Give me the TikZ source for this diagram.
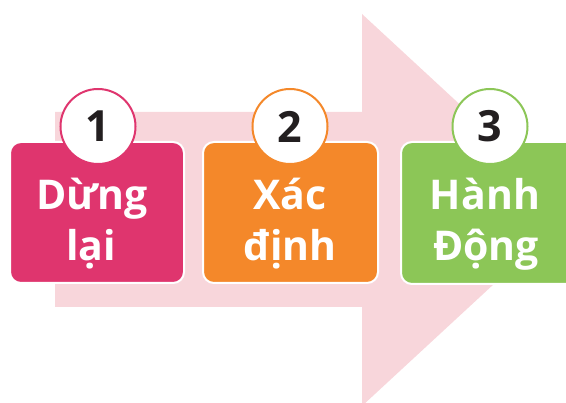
\documentclass[tikz,border=0pt]{standalone}
\usepackage{fontspec}
\setmainfont{Open Sans}
\definecolor{arrowpink}{HTML}{F8D6DB}
\definecolor{boxpink}{HTML}{DF356E}
\definecolor{boxorange}{HTML}{F4882A}
\definecolor{boxgreen}{HTML}{8CC657}
\definecolor{digit}{HTML}{231F20}
\tikzset{
  stepbox/.style={draw=white, line width=2pt, rounded corners=11pt},
  numcircle/.style={circle, fill=white, line width=2pt, minimum size=75pt, inner sep=0pt,
     font=\fontsize{43}{43}\selectfont\bfseries, text=digit},
  steptext/.style={anchor=base, text=white, inner sep=0pt, font=\fontsize{41}{41}\selectfont\bfseries}
}
\begin{document}
\begin{tikzpicture}[x=1pt,y=-1pt]
\useasboundingbox (0,0) rectangle (566,403);
\clip (0,0) rectangle (566,403);
% big background arrow
\fill[arrowpink] (55,112) -- (362,112) -- (362,14) -- (574,210) -- (362,406) -- (362,307) -- (55,307) -- cycle;
% boxes
\path[stepbox, fill=boxpink] (10,142) rectangle (184,283);
\path[stepbox, fill=boxorange] (203,142) rectangle (378,283);
\path[stepbox, fill=boxgreen] (401,142) rectangle (580,284);
% number circles
\node[numcircle, draw=boxpink] (c1) at (98,126.5) {1};
\node[numcircle, draw=boxorange] (c2) at (290,126.5) {2};
\node[numcircle, draw=boxgreen] (c3) at (490,126.5) {3};
% texts
\node[steptext] (t1a) at (92,210) {Dừng};
\node[steptext] (t1b) at (91,261) {lại};
\node[steptext] (t2a) at (290,210) {Xác};
\node[steptext] (t2b) at (290,261) {định};
\node[steptext] (t3a) at (485,210) {Hành};
\node[steptext] (t3b) at (486,261) {Động};
\end{tikzpicture}
\end{document}
